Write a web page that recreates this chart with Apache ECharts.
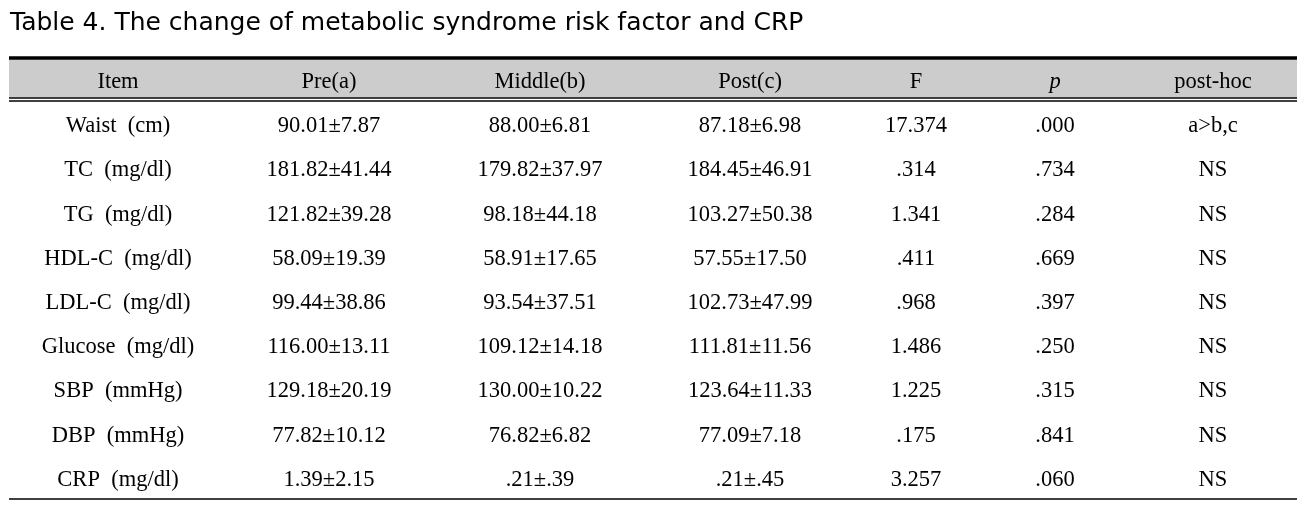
<!DOCTYPE html>
<html>
<head>
<meta charset="utf-8">
<script src="https://cdn.jsdelivr.net/npm/echarts@6/dist/echarts.min.js"></script>
<style>
html,body{margin:0;padding:0;background:#fff;}
#chart{width:1303px;height:509px;}
</style>
</head>
<body>
<div id="chart"></div>
<script>
// ---- data ----
const titleText = 'Table 4. The change of metabolic syndrome risk factor and CRP';
const headers = ['Item', 'Pre(a)', 'Middle(b)', 'Post(c)', 'F', 'p', 'post-hoc'];
const items = ['Waist  (cm)', 'TC  (mg/dl)', 'TG  (mg/dl)', 'HDL-C  (mg/dl)', 'LDL-C  (mg/dl)',
  'Glucose  (mg/dl)', 'SBP  (mmHg)', 'DBP  (mmHg)', 'CRP  (mg/dl)'];
const preMean  = [90.01, 181.82, 121.82, 58.09, 99.44, 116.00, 129.18, 77.82, 1.39];
const preSD    = [7.87, 41.44, 39.28, 19.39, 38.86, 13.11, 20.19, 10.12, 2.15];
const midMean  = [88.00, 179.82, 98.18, 58.91, 93.54, 109.12, 130.00, 76.82, 0.21];
const midSD    = [6.81, 37.97, 44.18, 17.65, 37.51, 14.18, 10.22, 6.82, 0.39];
const postMean = [87.18, 184.45, 103.27, 57.55, 102.73, 111.81, 123.64, 77.09, 0.21];
const postSD   = [6.98, 46.91, 50.38, 17.50, 47.99, 11.56, 11.33, 7.18, 0.45];
const fValues  = [17.374, 0.314, 1.341, 0.411, 0.968, 1.486, 1.225, 0.175, 3.257];
const pValues  = [0.000, 0.734, 0.284, 0.669, 0.397, 0.250, 0.315, 0.841, 0.060];
const postHoc  = ['a>b,c', 'NS', 'NS', 'NS', 'NS', 'NS', 'NS', 'NS', 'NS'];

// ---- layout (column widths in table units) ----
const colWidths = [218, 204, 218, 202, 130, 148, 168];

function fmt(v, d) {
  let s = v.toFixed(d);
  if (s.startsWith('0.')) s = s.slice(1);
  return s;
}
function ms(m, s) { return fmt(m, 2) + '±' + fmt(s, 2); }

const total = colWidths.reduce((a, b) => a + b, 0);
const centers = [];
let acc = 0;
colWidths.forEach(w => { centers.push(acc + w / 2); acc += w; });

const rows = items.map((it, i) => [
  it, ms(preMean[i], preSD[i]), ms(midMean[i], midSD[i]), ms(postMean[i], postSD[i]),
  fmt(fValues[i], 3), fmt(pValues[i], 3), postHoc[i]
]);

const cells = [];
headers.forEach((h, c) => {
  const item = { name: h, value: [centers[c], 0.5] };
  if (h === 'p') item.label = { fontStyle: 'italic' };
  cells.push(item);
});
rows.forEach((r, ri) => {
  r.forEach((t, c) => cells.push({ name: t, value: [centers[c], ri + 1.5] }));
});

const solid = (w) => ({ width: w, color: '#000', type: 'solid', opacity: 1 });

const chart = echarts.init(document.getElementById('chart'), null, { renderer: 'canvas' });
chart.setOption({
  backgroundColor: '#ffffff',
  animation: false,
  title: {
    text: titleText, left: 5, top: 6,
    textStyle: { fontFamily: 'DejaVu Sans', fontSize: 25, fontWeight: 'normal', color: '#000' }
  },
  grid: { left: 9, right: 6, top: 57, bottom: 10 },
  xAxis: { type: 'value', min: 0, max: total, show: false },
  yAxis: { type: 'value', min: 0, max: 10, inverse: true, show: false },
  series: [
    {
      type: 'line',
      silent: true,
      data: [],
      markArea: {
        silent: true,
        itemStyle: { color: '#cccccc', opacity: 1 },
        data: [[{ yAxis: 0.05 }, { yAxis: 0.91 }]]
      },
      markLine: {
        silent: true,
        symbol: ['none', 'none'],
        label: { show: false },
        data: [
          { yAxis: 0.02, lineStyle: solid(3.5) },
          { yAxis: 0.925, lineStyle: solid(1.5) },
          { yAxis: 0.995, lineStyle: solid(1.5) },
          { yAxis: 10, lineStyle: solid(1.5) }
        ]
      }
    },
    {
      type: 'scatter',
      silent: true,
      symbolSize: 0,
      itemStyle: { opacity: 1 },
      data: cells,
      label: {
        show: true,
        position: 'inside',
        offset: [0, 3],
        formatter: '{b}',
        fontFamily: 'Liberation Serif',
        fontSize: 22.5,
        color: '#000',
        opacity: 1
      }
    }
  ]
});
</script>
</body>
</html>
